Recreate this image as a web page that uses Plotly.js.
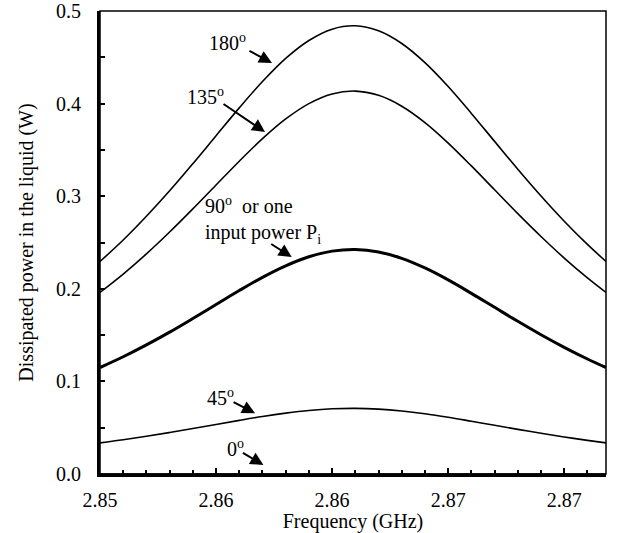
<!DOCTYPE html>
<html>
<head>
<meta charset="utf-8">
<script src="https://cdn.plot.ly/plotly-3.0.1.min.js"></script>
<style>
  html, body { margin: 0; padding: 0; background: #fff; }
  #chart { width: 617px; height: 533px; }
</style>
</head>
<body>
<div id="chart"></div>
<script>
// Frequency (GHz)
const freq = [2.850, 2.851, 2.852, 2.853, 2.854, 2.855, 2.856, 2.857, 2.858, 2.859, 2.860, 2.861,
              2.862, 2.863, 2.864, 2.865, 2.866, 2.867, 2.868, 2.869, 2.870, 2.871, 2.8718];
// Dissipated power (W) for each phase difference
const p180 = [0.2295, 0.2527, 0.2783, 0.3058, 0.3351, 0.3653, 0.3954, 0.4238, 0.4488, 0.4682, 0.4804, 0.4840,
              0.4786, 0.4649, 0.4442, 0.4184, 0.3894, 0.3592, 0.3291, 0.3002, 0.2730, 0.2479, 0.2295];
const p135 = [0.1961, 0.2159, 0.2377, 0.2613, 0.2863, 0.3121, 0.3378, 0.3621, 0.3834, 0.4000, 0.4104, 0.4135,
              0.4089, 0.3972, 0.3795, 0.3574, 0.3327, 0.3069, 0.2812, 0.2565, 0.2332, 0.2118, 0.1961];
const p90  = [0.1150, 0.1266, 0.1394, 0.1532, 0.1679, 0.1830, 0.1981, 0.2124, 0.2248, 0.2346, 0.2407, 0.2425,
              0.2398, 0.2329, 0.2225, 0.2096, 0.1951, 0.1800, 0.1649, 0.1504, 0.1368, 0.1242, 0.1150];
const p45  = [0.0336, 0.0370, 0.0408, 0.0448, 0.0491, 0.0535, 0.0579, 0.0621, 0.0657, 0.0686, 0.0704, 0.0709,
              0.0701, 0.0681, 0.0651, 0.0613, 0.0570, 0.0526, 0.0482, 0.0440, 0.0400, 0.0363, 0.0336];
const p0   = [0, 0, 0, 0, 0, 0, 0, 0, 0, 0, 0, 0, 0, 0, 0, 0, 0, 0, 0, 0, 0, 0, 0];

// Tick labels
const xTickVals = [2.85, 2.855, 2.86, 2.865, 2.87];
const xTickText = ['2.85', '2.86', '2.86', '2.87', '2.87'];
const yTickVals = [0, 0.1, 0.2, 0.3, 0.4, 0.5];
const yTickText = ['0.0', '0.1', '0.2', '0.3', '0.4', '0.5'];

const FONT = 'Liberation Serif, Times New Roman, serif';

function curve(y, w) {
  return { x: freq, y: y, type: 'scatter', mode: 'lines',
           line: { color: '#000', width: w, shape: 'spline', smoothing: 1 },
           hoverinfo: 'skip', showlegend: false, cliponaxis: false };
}

const data = [curve(p0, 1.5), curve(p45, 1.6), curve(p90, 3), curve(p135, 1.6), curve(p180, 1.6)];

function arrow(x, y, ax, ay) {
  return { x: x, y: y, xref: 'x', yref: 'y', ax: ax, ay: ay, text: '', showarrow: true,
           arrowhead: 2, arrowsize: 1.3, arrowwidth: 2, arrowcolor: '#000', standoff: 0 };
}
function label(x, y, text) {
  return { x: x, y: y, xref: 'x', yref: 'y', text: text, showarrow: false,
           xanchor: 'left', yanchor: 'middle', align: 'left',
           font: { family: FONT, size: 20, color: '#000' } };
}

const layout = {
  width: 617, height: 533,
  margin: { l: 100, r: 11, t: 11, b: 59 },
  paper_bgcolor: '#fff', plot_bgcolor: '#fff',
  font: { family: FONT, size: 20, color: '#000' },
  showlegend: false,
  xaxis: {
    range: [2.85, 2.8718], tickmode: 'array', tickvals: xTickVals, ticktext: xTickText,
    ticks: 'inside', ticklen: 6, tickwidth: 2, tickcolor: '#000',
    minor: { tickmode: 'linear', tick0: 2.85, dtick: 0.001, ticks: 'inside', ticklen: 4, tickwidth: 2, tickcolor: '#000', showgrid: false },
    showline: true, linewidth: 3, linecolor: '#000', showgrid: false, zeroline: false,
    tickfont: { family: FONT, size: 20 }, ticklabelstandoff: 6,
    title: { text: 'Frequency (GHz)', font: { family: FONT, size: 20 }, standoff: 1 }
  },
  yaxis: {
    range: [0, 0.5], tickmode: 'array', tickvals: yTickVals, ticktext: yTickText,
    ticks: 'inside', ticklen: 5, tickwidth: 2, tickcolor: '#000',
    minor: { tickmode: 'linear', tick0: 0, dtick: 0.05, ticks: 'inside', ticklen: 5, tickwidth: 2, tickcolor: '#000', showgrid: false },
    showline: true, linewidth: 3, linecolor: '#000', showgrid: false, zeroline: false,
    tickfont: { family: FONT, size: 20 }, ticklabelstandoff: 12,
    title: { text: 'Dissipated power in the liquid (W)', font: { family: FONT, size: 20 }, standoff: 18 }
  },
  shapes: [
    { type: 'rect', xref: 'paper', yref: 'paper', x0: 0, x1: 1, y0: 0, y1: 1,
      line: { color: '#000', width: 1.5 }, fillcolor: 'rgba(0,0,0,0)' }
  ],
  annotations: [
    label(2.85461, 0.4665, '180<sup>o</sup>'),
    arrow(2.85741, 0.4438, -24, -13),
    label(2.85366, 0.4082, '135<sup>o</sup>'),
    arrow(2.85711, 0.3693, -43, -29),
    label(2.85444, 0.2743, '90<sup>o</sup>  or one<br>input power P<sub>i</sub>'),
    arrow(2.85826, 0.2343, -22, -14),
    label(2.85453, 0.0832, '45<sup>o</sup>'),
    arrow(2.85668, 0.0656, -23, -12),
    label(2.85539, 0.0281, '0<sup>o</sup>'),
    arrow(2.85704, 0.0097, -22, -13)
  ]
};

Plotly.newPlot('chart', data, layout, { displayModeBar: false, staticPlot: true });
</script>
</body>
</html>
